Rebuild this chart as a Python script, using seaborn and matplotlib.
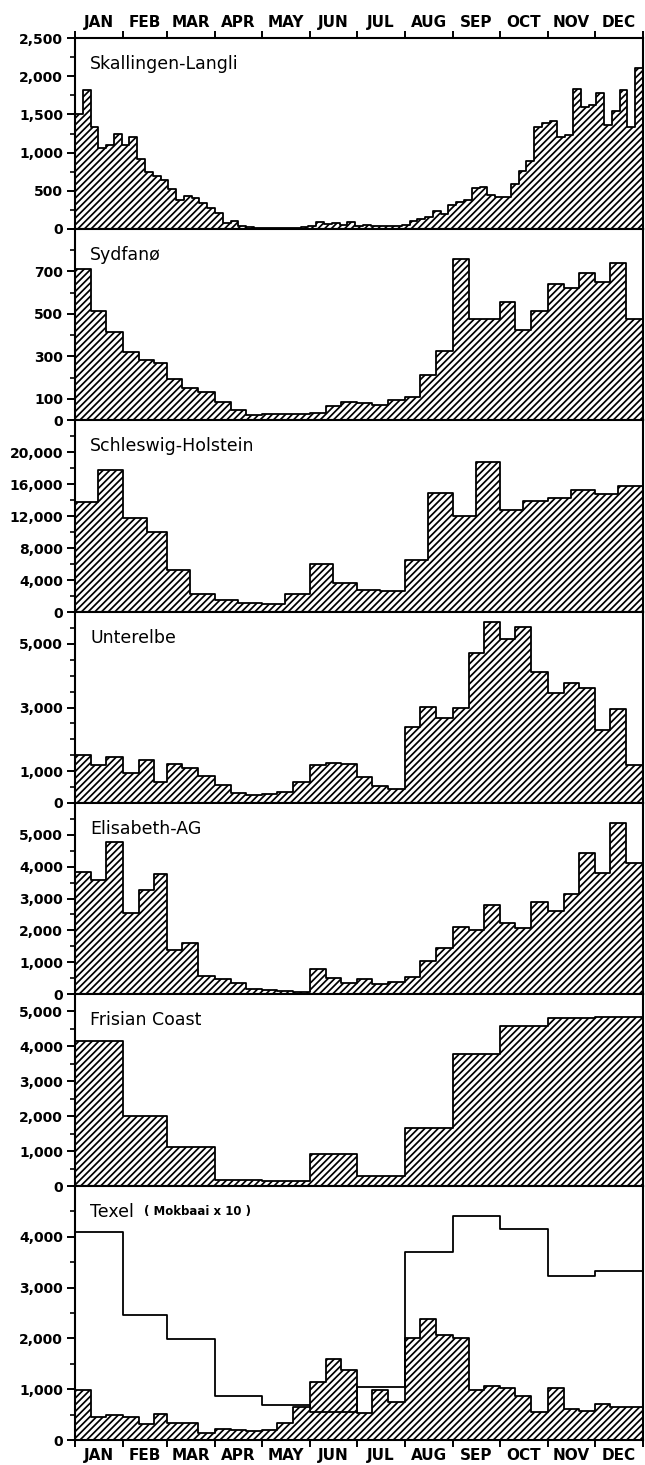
import numpy as np
import pandas as pd
import matplotlib
matplotlib.use("Agg")
import matplotlib.pyplot as plt
import seaborn as sns
from matplotlib.ticker import FixedLocator, FixedFormatter, MultipleLocator, FuncFormatter

sns.set_style("ticks")
plt.rcParams["font.family"] = ["DejaVu Sans"]
plt.rcParams["hatch.color"] = "black"
plt.rcParams["hatch.linewidth"] = 1.25
plt.rcParams["text.color"] = "black"
plt.rcParams["axes.edgecolor"] = "black"
plt.rcParams["axes.labelcolor"] = "black"
plt.rcParams["xtick.color"] = "black"
plt.rcParams["ytick.color"] = "black"

# ---------------- data ----------------
months = ["JAN", "FEB", "MAR", "APR", "MAY", "JUN", "JUL", "AUG", "SEP", "OCT", "NOV", "DEC"]
month_days = [31, 28, 31, 30, 31, 30, 31, 31, 30, 31, 30, 31]

# five-day totals (73 pentads)
skallingen_langli = [1500, 1820, 1330, 1060, 1100, 1250, 1100, 1210, 910, 750, 690, 640,
                     520, 380, 435, 400, 340, 275, 215, 80, 100, 45, 28, 15, 12, 10, 10,
                     12, 15, 25, 40, 90, 60, 85, 55, 95, 45, 50, 45, 40, 35, 40, 50, 110,
                     130, 160, 240, 200, 310, 350, 385, 540, 550, 445, 425, 415, 590, 765,
                     895, 1340, 1390, 1420, 1210, 1230, 1830, 1595, 1625, 1775, 1360, 1540,
                     1820, 1330, 2105]
# ten-day periods (36)
sydfano = [710, 515, 415, 320, 285, 270, 195, 150, 130, 85, 45, 25, 30, 28, 30, 35, 65, 85,
           80, 70, 95, 110, 210, 325, 760, 475, 475, 555, 425, 515, 640, 620, 695, 650, 740, 475]
# half-month periods (24)
schleswig_holstein = [13700, 17800, 11800, 10000, 5200, 2200, 1500, 1150, 1000, 2300, 6000, 3650,
                      2750, 2650, 6500, 14900, 12000, 18700, 12700, 13900, 14200, 15300, 14800, 15700]
unterelbe = [1500, 1200, 1450, 950, 1350, 650, 1230, 1100, 850, 550, 310, 240, 270, 330, 650,
             1200, 1260, 1240, 820, 540, 450, 2400, 3030, 2670, 2980, 4700, 5680, 5150, 5540,
             4100, 3450, 3760, 3600, 2300, 2940, 1200]
elisabeth_ag = [3840, 3580, 4790, 2530, 3260, 3760, 1390, 1600, 560, 480, 330, 160, 140, 105, 70,
                800, 490, 350, 470, 320, 370, 530, 1050, 1450, 2100, 2000, 2790, 2220, 2070, 2880,
                2620, 3140, 4440, 3800, 5380, 4120]
# monthly (12)
frisian_coast = [4150, 2000, 1120, 180, 150, 910, 280, 1650, 3770, 4580, 4800, 4850]
texel = [980, 460, 490, 460, 320, 520, 330, 330, 140, 210, 190, 170, 200, 330, 650, 1150, 1600,
         1380, 540, 990, 740, 2000, 2380, 2070, 2000, 990, 1060, 1020, 870, 560, 1020, 610, 580,
         710, 640, 640]
mokbaai_x10 = [4100, 2460, 1990, 875, 680, 560, 1040, 3700, 4400, 4150, 3220, 3330]

# ---------------- bins ----------------
month_edges = np.concatenate([[0], np.cumsum(month_days)])


def make_edges(kind):
    if kind == "pentad":
        return [float(v) for v in range(0, 366, 5)]
    if kind == "month":
        return [float(v) for v in month_edges]
    e = []
    for s in month_edges[:-1]:
        if kind == "decade":
            e += [s, s + 10, s + 20]
        else:
            e += [s, s + 15]
    e.append(365)
    return [float(v) for v in e]


panels = [
    ("Skallingen-Langli", skallingen_langli, "pentad", 2500, list(range(0, 2501, 500)), 250),
    ("Sydfanø", sydfano, "decade", 900, [0, 100, 300, 500, 700], 100),
    ("Schleswig-Holstein", schleswig_holstein, "half", 24000, list(range(0, 20001, 4000)), 2000),
    ("Unterelbe", unterelbe, "decade", 6000, [0, 1000, 3000, 5000], 500),
    ("Elisabeth-AG", elisabeth_ag, "decade", 6000, list(range(0, 5001, 1000)), 500),
    ("Frisian Coast", frisian_coast, "month", 5500, list(range(0, 5001, 1000)), 500),
    ("Texel", texel, "decade", 5000, list(range(0, 4001, 1000)), 500),
]

# panel boundaries in pixels (top, bottom)
W, H = 645, 1465
bounds = [(38, 229), (229, 420), (420, 612), (612, 803), (803, 994), (994, 1186), (1186, 1440)]
left_px, width_px = 75, 568

fig = plt.figure(figsize=(W / 100, H / 100), dpi=100)
fmt = FuncFormatter(lambda v, p: f"{int(round(v)):,}")
mid = (month_edges[:-1] + month_edges[1:]) / 2


def draw_hist(ax, vals, edges, fill, zorder):
    centers = [(a + b) / 2 for a, b in zip(edges[:-1], edges[1:])]
    df = pd.DataFrame({"day": centers, "count": vals})
    if fill:
        sns.histplot(data=df, x="day", weights="count", bins=edges, common_bins=False,
                     element="step", fill=True, facecolor="white", edgecolor="black",
                     linewidth=1.3, hatch="/////", ax=ax, zorder=zorder)
    else:
        sns.histplot(data=df, x="day", weights="count", bins=edges, common_bins=False,
                     element="step", fill=False, color="black", linewidth=1.3,
                     ax=ax, zorder=zorder)


for i, ((name, vals, kind, ymax, majors, minor), (top, bot)) in enumerate(zip(panels, bounds)):
    ax = fig.add_axes([left_px / W, 1 - bot / H, width_px / W, (bot - top) / H])
    draw_hist(ax, vals, make_edges(kind), True, 2)
    if name == "Texel":
        draw_hist(ax, mokbaai_x10, make_edges("month"), False, 3)
    ax.set_xlim(0, 365)
    ax.set_ylim(0, ymax)
    ax.set_xlabel("")
    ax.set_ylabel("")
    for sp in ax.spines.values():
        sp.set_visible(True)
        sp.set_linewidth(1.5)
        sp.set_color("black")
        sp.set_zorder(5)
    # y ticks
    ax.yaxis.set_major_locator(FixedLocator(majors))
    ax.yaxis.set_minor_locator(MultipleLocator(minor))
    ax.yaxis.set_major_formatter(fmt)
    ax.tick_params(axis="y", which="major", length=6, width=1.4, direction="out", pad=2.5,
                   labelsize=10, colors="black")
    ax.tick_params(axis="y", which="minor", length=3.5, width=1.2, direction="out",
                   colors="black")
    for lab in ax.get_yticklabels():
        lab.set_fontweight("bold")
    # x ticks
    ax.xaxis.set_major_locator(FixedLocator(month_edges))
    ax.xaxis.set_minor_locator(FixedLocator(mid))
    ax.xaxis.set_minor_formatter(FixedFormatter(months))
    ax.tick_params(axis="x", which="major", length=5, width=1.4, direction="out",
                   bottom=True, top=(i == 0), labelbottom=False, labeltop=False,
                   colors="black")
    ax.tick_params(axis="x", which="minor", length=0, bottom=False, top=False,
                   labelbottom=(i == len(panels) - 1), labeltop=(i == 0), labelsize=11, pad=6,
                   colors="black")
    for lab in ax.xaxis.get_minorticklabels():
        lab.set_fontweight("bold")
    ax.annotate(name, xy=(0, 1), xycoords="axes fraction", xytext=(15, -26),
                textcoords="offset pixels", ha="left", va="center", fontsize=12.5,
                color="black")
    if name == "Texel":
        ax.annotate("( Mokbaai x 10 )", xy=(0, 1), xycoords="axes fraction", xytext=(69, -26),
                    textcoords="offset pixels", ha="left", va="center", fontsize=8.5,
                    fontweight="bold", color="black")
    ax.set_facecolor("white")
    ax.grid(False)

fig.savefig("out.png", dpi=100, facecolor="white")
